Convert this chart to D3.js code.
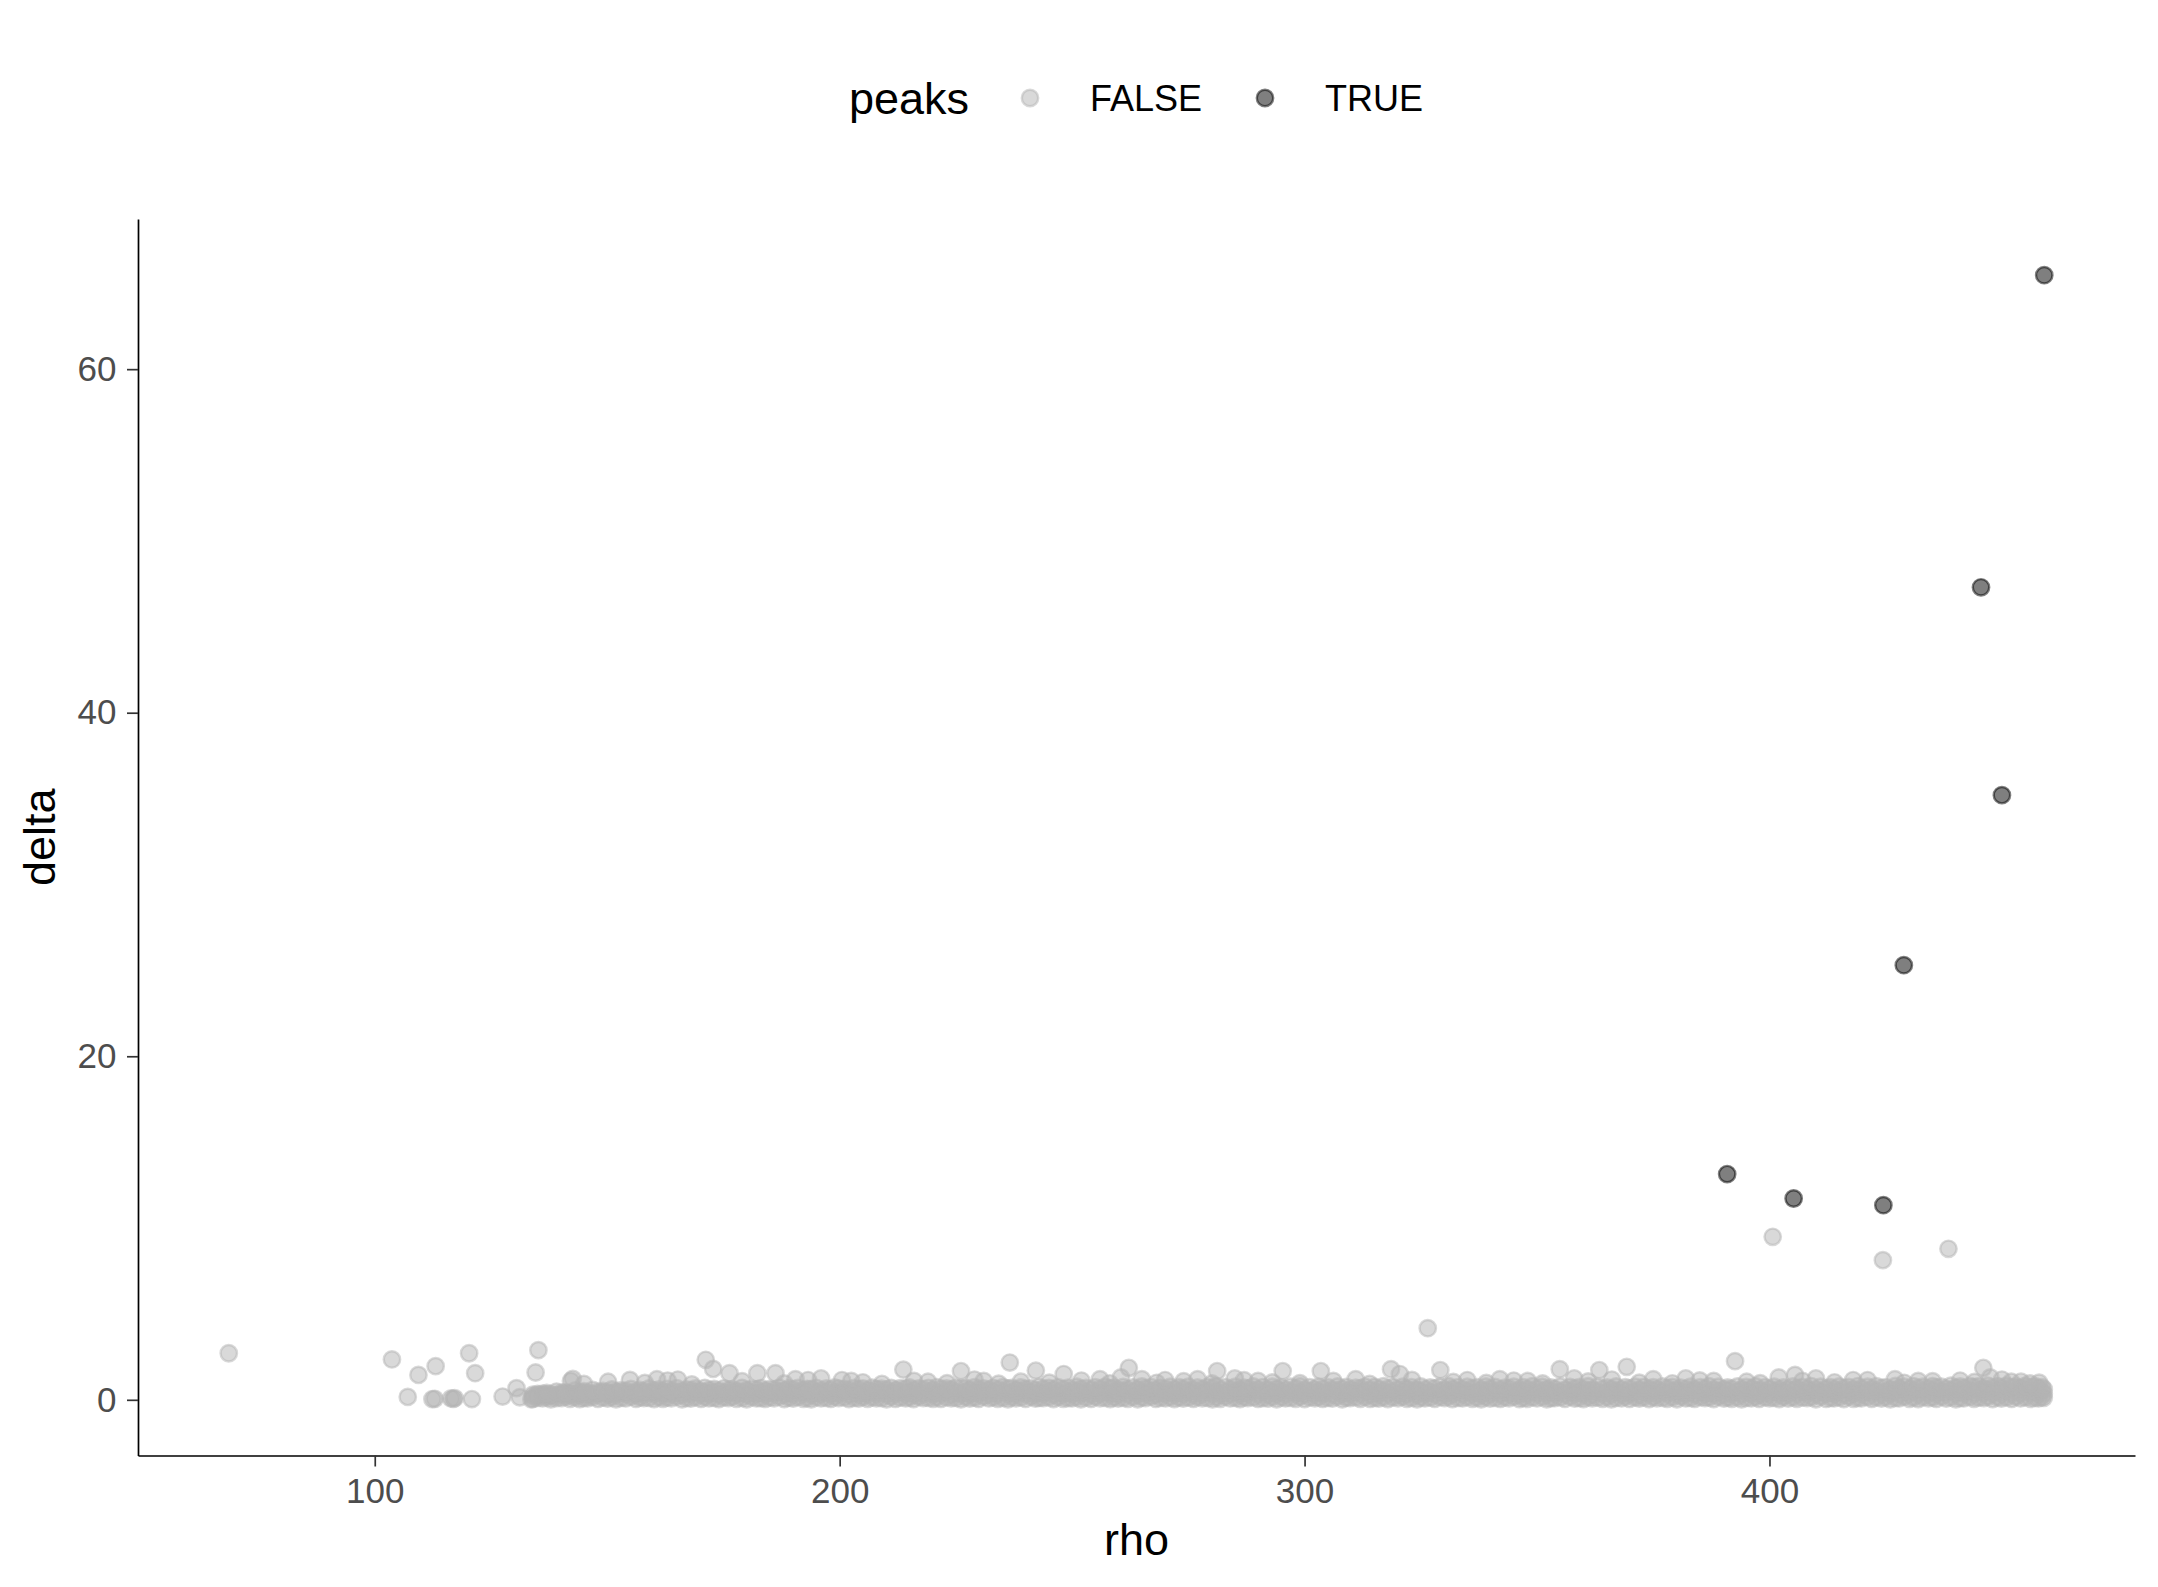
<!DOCTYPE html>
<html><head><meta charset="utf-8">
<script src="https://cdn.jsdelivr.net/npm/d3@7"></script>
<style>
body{margin:0;background:#fff;overflow:hidden}
svg{display:block}
text{font-family:"Liberation Sans",Arial,Helvetica,sans-serif}
</style>
</head><body>
<svg id="chart" width="2158" height="1587"></svg>
<script>
// ---------------- data ----------------
const legendTitle = "peaks";
const groups = ["FALSE", "TRUE"];
const xTitle = "rho";
const yTitle = "delta";
const xTicks = [100, 200, 300, 400];
const yTicks = [0, 20, 40, 60];

// peaks (TRUE)
const trueRho   = [390.9, 405.2, 424.5, 428.9, 445.5, 450.0, 459.1];
const trueDelta = [13.14, 11.72, 11.33, 25.3, 47.3, 35.2, 65.47];

// scattered non-peaks (FALSE) outside the dense band
const falseRho = [
  68.6, 103.7, 107.1, 109.4, 112.4, 112.9, 113.1, 116.4, 116.9, 117.2,
  120.3, 120.9, 121.6, 127.5, 130.5, 131.2, 133.7, 134.6, 135.2, 142.2,
  142.6, 154.9, 160.7, 165.2, 171.2, 172.8, 176.3, 182.3, 186.2, 190.5,
  196.0, 200.5, 202.5, 213.7, 219.0, 226.1, 231.0, 236.6, 242.2, 248.2,
  256.0, 260.5, 262.2, 270.0, 277.0, 281.2, 285.0, 290.0, 295.3, 303.5,
  311.0, 318.6, 320.5, 326.5, 329.2, 335.0, 342.0, 348.0, 354.9, 358.0,
  363.4, 369.3, 375.0, 382.0, 388.0, 392.6, 400.7, 402.0, 405.5, 410.0,
  418.0, 424.4, 427.0, 432.0, 438.5, 446.0, 447.5, 452.0, 456.0
];
const falseDelta = [
  2.71, 2.35, 0.17, 1.45, 0.04, 0.06, 1.96, 0.08, 0.06, 0.10,
  2.71, 0.04, 1.55, 0.19, 0.68, 0.15, 0.03, 1.59, 2.89, 1.10,
  1.22, 1.16, 1.20, 1.18, 2.33, 1.80, 1.55, 1.55, 1.55, 1.20,
  1.25, 1.15, 1.10, 1.76, 1.05, 1.67, 1.10, 2.17, 1.70, 1.50,
  1.20, 1.30, 1.86, 1.15, 1.20, 1.67, 1.25, 1.10, 1.67, 1.67,
  1.20, 1.78, 1.50, 4.17, 1.73, 1.15, 1.20, 1.10, 1.78, 1.25,
  1.73, 1.92, 1.20, 1.25, 1.10, 2.25, 9.49, 1.30, 1.45, 1.25,
  1.15, 8.13, 1.20, 1.10, 8.79, 1.86, 1.30, 1.05, 0.95
];

// non-peaks just above the dense band (its ragged top edge)
const fringeRho = [
  145.0, 150.2, 158.1, 163.0, 168.2, 179.0, 188.1, 193.2, 205.0, 209.1,
  216.0, 223.1, 229.0, 234.2, 239.0, 245.1, 252.0, 258.1, 265.0, 268.2,
  274.0, 280.1, 287.0, 293.1, 299.0, 306.2, 314.0, 323.1, 332.0, 339.1,
  345.0, 351.2, 361.0, 366.1, 372.0, 379.1, 385.0, 395.1, 398.0, 407.1,
  414.0, 421.1, 429.0, 435.1, 441.0, 444.1, 450.0, 454.1, 458.0
];
const fringeDelta = [
  0.92, 1.05, 0.98, 1.12, 0.90, 1.08, 0.95, 1.15, 1.02, 0.93,
  1.10, 0.97, 1.18, 0.94, 1.06, 1.00, 1.12, 0.96, 1.20, 0.99,
  1.08, 0.95, 1.14, 1.01, 0.97, 1.10, 0.93, 1.16, 1.04, 0.98,
  1.12, 0.95, 1.07, 1.18, 1.00, 0.96, 1.13, 1.05, 0.97, 1.10,
  1.02, 1.15, 0.99, 1.08, 1.12, 1.04, 1.18, 1.06, 1.00
];

// dense band of non-peaks (FALSE), set A: rho positions and three layers of delta
const bandRho = [
  134.0, 136.1, 137.9, 140.2, 142.0, 144.1, 145.8, 148.0, 150.1, 151.9,
  154.0, 156.2, 157.9, 160.1, 162.0, 163.8, 166.1, 168.0, 170.2, 171.9,
  174.0, 176.1, 177.8, 180.0, 182.1, 184.0, 185.9, 188.1, 190.0, 192.2,
  193.9, 196.0, 198.1, 199.8, 202.0, 204.1, 206.0, 207.9, 210.1, 212.0,
  214.2, 215.9, 218.0, 220.1, 221.8, 224.0, 226.1, 228.0, 229.9, 232.1,
  234.0, 236.2, 237.9, 240.0, 242.1, 243.8, 246.0, 248.1, 250.0, 251.9,
  254.1, 256.0, 258.2, 259.9, 262.0, 264.1, 265.8, 268.0, 270.1, 272.0,
  273.9, 276.1, 278.0, 280.2, 281.9, 284.0, 286.1, 287.8, 290.0, 292.1,
  294.0, 295.9, 298.1, 300.0, 302.2, 303.9, 306.0, 308.1, 309.8, 312.0,
  314.1, 316.0, 317.9, 320.1, 322.0, 324.2, 325.9, 328.0, 330.1, 331.8,
  334.0, 336.1, 338.0, 339.9, 342.1, 344.0, 346.2, 347.9, 350.0, 352.1,
  353.8, 356.0, 358.1, 360.0, 361.9, 364.1, 366.0, 368.2, 369.9, 372.0,
  374.1, 375.8, 378.0, 380.1, 382.0, 383.9, 386.1, 388.0, 390.2, 391.9,
  394.0, 396.1, 397.8, 400.0, 402.1, 404.0, 405.9, 408.1, 410.0, 412.2,
  413.9, 416.0, 418.1, 419.8, 422.0, 424.1, 426.0, 427.9, 430.1, 432.0,
  434.2, 435.9, 438.0, 440.1, 441.8, 444.0, 446.1, 448.0, 449.9, 452.1,
  454.0, 456.2, 457.9, 459.0
];
const bandLow = [
  0.05, 0.08, 0.03, 0.10, 0.06, 0.04, 0.09, 0.05, 0.07, 0.03,
  0.08, 0.05, 0.10, 0.04, 0.06, 0.09, 0.03, 0.07, 0.05, 0.08,
  0.04, 0.10, 0.06, 0.03, 0.08, 0.05, 0.09, 0.04, 0.07, 0.06,
  0.03, 0.08, 0.05, 0.10, 0.04, 0.07, 0.06, 0.09, 0.03, 0.05,
  0.08, 0.04, 0.10, 0.06, 0.05, 0.09, 0.03, 0.07, 0.05, 0.08,
  0.06, 0.03, 0.09, 0.05, 0.07, 0.10, 0.04, 0.06, 0.08, 0.03,
  0.05, 0.09, 0.04, 0.07, 0.06, 0.03, 0.10, 0.05, 0.08, 0.04,
  0.07, 0.05, 0.09, 0.03, 0.06, 0.08, 0.04, 0.10, 0.05, 0.07,
  0.03, 0.08, 0.06, 0.04, 0.09, 0.05, 0.07, 0.03, 0.10, 0.06,
  0.05, 0.07, 0.04, 0.09, 0.06, 0.03, 0.08, 0.05, 0.10, 0.04,
  0.08, 0.06, 0.03, 0.07, 0.05, 0.09, 0.04, 0.06, 0.08, 0.03,
  0.10, 0.05, 0.07, 0.04, 0.09, 0.06, 0.03, 0.08, 0.05, 0.07,
  0.04, 0.09, 0.06, 0.03, 0.08, 0.05, 0.10, 0.04, 0.07, 0.06,
  0.03, 0.08, 0.05, 0.09, 0.04, 0.07, 0.06, 0.10, 0.03, 0.05,
  0.08, 0.04, 0.06, 0.09, 0.05, 0.07, 0.03, 0.08, 0.06, 0.04,
  0.09, 0.05, 0.07, 0.03, 0.08, 0.06, 0.10, 0.04, 0.07, 0.05,
  0.08, 0.06, 0.09, 0.12
];
const bandMid = [
  0.18, 0.25, 0.22, 0.30, 0.26, 0.33, 0.28, 0.35, 0.30, 0.32,
  0.36, 0.30, 0.34, 0.38, 0.32, 0.35, 0.30, 0.37, 0.33, 0.36,
  0.31, 0.38, 0.34, 0.30, 0.36, 0.33, 0.39, 0.32, 0.35, 0.37,
  0.30, 0.36, 0.33, 0.38, 0.31, 0.35, 0.34, 0.37, 0.32, 0.36,
  0.38, 0.31, 0.35, 0.33, 0.37, 0.30, 0.36, 0.34, 0.39, 0.32,
  0.35, 0.37, 0.31, 0.36, 0.33, 0.38, 0.30, 0.35, 0.34, 0.37,
  0.32, 0.36, 0.39, 0.31, 0.35, 0.33, 0.37, 0.30, 0.36, 0.34,
  0.38, 0.32, 0.35, 0.37, 0.31, 0.36, 0.33, 0.39, 0.34, 0.30,
  0.36, 0.33, 0.38, 0.31, 0.35, 0.37, 0.32, 0.36, 0.34, 0.39,
  0.31, 0.35, 0.37, 0.33, 0.36, 0.30, 0.38, 0.34, 0.32, 0.36,
  0.35, 0.39, 0.32, 0.36, 0.33, 0.37, 0.31, 0.35, 0.38, 0.34,
  0.36, 0.32, 0.37, 0.34, 0.30, 0.38, 0.35, 0.33, 0.36, 0.31,
  0.37, 0.34, 0.39, 0.32, 0.36, 0.33, 0.38, 0.35, 0.31, 0.36,
  0.34, 0.37, 0.32, 0.38, 0.35, 0.33, 0.36, 0.39, 0.34, 0.37,
  0.36, 0.33, 0.38, 0.35, 0.40, 0.34, 0.37, 0.36, 0.39, 0.35,
  0.38, 0.36, 0.41, 0.37, 0.40, 0.38, 0.42, 0.39, 0.41, 0.38,
  0.40, 0.43, 0.39, 0.36
];
const bandHigh = [
  0.30, 0.36, 0.33, 0.42, 0.38, 0.45, 0.40, 0.47, 0.44, 0.48,
  0.52, 0.47, 0.50, 0.55, 0.49, 0.53, 0.51, 0.56, 0.50, 0.57,
  0.53, 0.58, 0.52, 0.56, 0.60, 0.54, 0.58, 0.55, 0.61, 0.57,
  0.63, 0.55, 0.60, 0.67, 0.58, 0.62, 0.56, 0.64, 0.60, 0.57,
  0.66, 0.59, 0.62, 0.56, 0.65, 0.60, 0.68, 0.57, 0.63, 0.59,
  0.61, 0.66, 0.58, 0.63, 0.57, 0.65, 0.60, 0.62, 0.56, 0.64,
  0.59, 0.63, 0.67, 0.58, 0.62, 0.60, 0.66, 0.57, 0.64, 0.61,
  0.65, 0.58, 0.62, 0.68, 0.60, 0.63, 0.57, 0.66, 0.61, 0.59,
  0.64, 0.60, 0.67, 0.58, 0.62, 0.65, 0.59, 0.63, 0.61, 0.68,
  0.57, 0.63, 0.66, 0.60, 0.64, 0.58, 0.62, 0.67, 0.59, 0.63,
  0.61, 0.68, 0.58, 0.64, 0.60, 0.66, 0.57, 0.63, 0.65, 0.60,
  0.64, 0.59, 0.67, 0.61, 0.58, 0.65, 0.62, 0.60, 0.66, 0.58,
  0.63, 0.60, 0.68, 0.57, 0.64, 0.61, 0.66, 0.59, 0.62, 0.65,
  0.60, 0.66, 0.58, 0.64, 0.62, 0.59, 0.67, 0.63, 0.61, 0.65,
  0.62, 0.68, 0.60, 0.66, 0.63, 0.70, 0.61, 0.67, 0.64, 0.69,
  0.66, 0.72, 0.65, 0.70, 0.68, 0.74, 0.67, 0.71, 0.69, 0.73,
  0.70, 0.75, 0.68, 0.62
];

// dense band, set B (in between set A positions)
const bandRho2 = [
  135.0, 137.0, 139.1, 141.0, 143.1, 145.0, 146.9, 149.1, 151.0, 153.0,
  155.1, 157.0, 159.0, 161.1, 162.9, 165.0, 167.1, 169.0, 171.0, 173.0,
  175.1, 176.9, 179.0, 181.1, 183.0, 185.0, 187.0, 189.1, 191.0, 193.0,
  195.0, 197.1, 198.9, 201.0, 203.1, 205.0, 207.0, 209.0, 211.1, 213.0,
  215.0, 217.0, 219.1, 220.9, 223.0, 225.0, 227.1, 229.0, 231.0, 233.0,
  235.1, 237.0, 239.0, 241.1, 242.9, 245.0, 247.0, 249.1, 251.0, 253.0,
  255.0, 257.1, 259.0, 261.0, 263.1, 265.0, 267.0, 269.0, 271.1, 273.0,
  275.0, 277.0, 279.1, 281.0, 283.0, 285.1, 287.0, 289.0, 291.0, 293.1,
  295.0, 297.0, 299.0, 301.1, 303.0, 305.0, 307.1, 309.0, 311.0, 313.0,
  315.1, 317.0, 319.0, 321.1, 323.0, 325.0, 327.0, 329.1, 331.0, 333.0,
  335.0, 337.1, 339.0, 341.0, 343.1, 345.0, 347.0, 349.0, 351.1, 353.0,
  355.0, 357.1, 359.0, 361.0, 363.0, 365.1, 367.0, 369.0, 371.1, 373.0,
  375.0, 377.0, 379.1, 381.0, 383.0, 385.1, 387.0, 389.0, 391.0, 393.1,
  395.0, 397.0, 399.1, 401.0, 403.0, 405.0, 407.1, 409.0, 411.0, 413.1,
  415.0, 417.0, 419.0, 421.1, 423.0, 425.0, 427.1, 429.0, 431.0, 433.0,
  435.1, 437.0, 439.0, 441.0, 443.1, 445.0, 447.0, 449.1, 451.0, 453.0,
  455.0, 457.1, 458.6
];
const bandLow2 = [
  0.12, 0.15, 0.10, 0.18, 0.14, 0.11, 0.17, 0.13, 0.16, 0.12,
  0.18, 0.14, 0.11, 0.16, 0.13, 0.19, 0.12, 0.15, 0.17, 0.11,
  0.14, 0.18, 0.12, 0.16, 0.10, 0.15, 0.19, 0.13, 0.17, 0.12,
  0.16, 0.11, 0.18, 0.14, 0.12, 0.17, 0.15, 0.10, 0.19, 0.13,
  0.15, 0.18, 0.12, 0.16, 0.14, 0.11, 0.17, 0.13, 0.19, 0.15,
  0.11, 0.16, 0.14, 0.18, 0.12, 0.15, 0.17, 0.10, 0.16, 0.13,
  0.18, 0.12, 0.15, 0.11, 0.17, 0.14, 0.19, 0.12, 0.16, 0.14,
  0.13, 0.17, 0.11, 0.15, 0.18, 0.12, 0.16, 0.14, 0.10, 0.17,
  0.15, 0.12, 0.18, 0.14, 0.16, 0.11, 0.19, 0.13, 0.15, 0.17,
  0.12, 0.16, 0.14, 0.18, 0.11, 0.15, 0.13, 0.17, 0.19, 0.12,
  0.16, 0.13, 0.17, 0.11, 0.15, 0.18, 0.12, 0.14, 0.16, 0.10,
  0.14, 0.18, 0.12, 0.16, 0.13, 0.17, 0.11, 0.19, 0.14, 0.15,
  0.17, 0.12, 0.15, 0.19, 0.11, 0.16, 0.14, 0.18, 0.13, 0.15,
  0.11, 0.17, 0.14, 0.12, 0.18, 0.15, 0.13, 0.16, 0.19, 0.12,
  0.15, 0.19, 0.12, 0.17, 0.14, 0.16, 0.11, 0.18, 0.13, 0.16,
  0.14, 0.18, 0.15, 0.12, 0.17, 0.13, 0.19, 0.16, 0.14, 0.18,
  0.15, 0.12, 0.16
];
const bandMid2 = [
  0.25, 0.30, 0.28, 0.36, 0.32, 0.40, 0.35, 0.42, 0.38, 0.44,
  0.40, 0.45, 0.42, 0.47, 0.43, 0.46, 0.41, 0.48, 0.44, 0.46,
  0.42, 0.48, 0.45, 0.43, 0.47, 0.44, 0.49, 0.42, 0.46, 0.48,
  0.44, 0.47, 0.43, 0.49, 0.45, 0.42, 0.48, 0.46, 0.44, 0.50,
  0.46, 0.43, 0.48, 0.45, 0.50, 0.44, 0.47, 0.42, 0.49, 0.46,
  0.48, 0.44, 0.50, 0.46, 0.43, 0.49, 0.45, 0.47, 0.51, 0.44,
  0.47, 0.50, 0.45, 0.52, 0.48, 0.46, 0.51, 0.44, 0.49, 0.47,
  0.50, 0.46, 0.52, 0.48, 0.45, 0.51, 0.47, 0.53, 0.49, 0.46,
  0.51, 0.48, 0.45, 0.52, 0.49, 0.47, 0.53, 0.46, 0.50, 0.48,
  0.46, 0.52, 0.49, 0.47, 0.53, 0.50, 0.45, 0.51, 0.48, 0.52,
  0.49, 0.46, 0.52, 0.48, 0.51, 0.47, 0.53, 0.50, 0.46, 0.52,
  0.48, 0.51, 0.47, 0.53, 0.49, 0.46, 0.52, 0.50, 0.48, 0.51,
  0.53, 0.47, 0.50, 0.48, 0.52, 0.49, 0.46, 0.51, 0.54, 0.48,
  0.50, 0.53, 0.47, 0.51, 0.49, 0.52, 0.48, 0.54, 0.50, 0.47,
  0.52, 0.49, 0.54, 0.50, 0.53, 0.48, 0.55, 0.51, 0.53, 0.50,
  0.54, 0.51, 0.56, 0.52, 0.55, 0.53, 0.57, 0.54, 0.56, 0.52,
  0.55, 0.53, 0.50
];
const bandHigh2 = [
  0.35, 0.40, 0.48, 0.45, 0.55, 0.50, 0.58, 0.52, 0.60, 0.56,
  0.63, 0.58, 0.66, 0.60, 0.64, 0.68, 0.61, 0.66, 0.70, 0.63,
  0.67, 0.62, 0.70, 0.65, 0.68, 0.63, 0.71, 0.66, 0.69, 0.64,
  0.70, 0.66, 0.72, 0.64, 0.69, 0.67, 0.71, 0.65, 0.70, 0.68,
  0.72, 0.67, 0.70, 0.74, 0.66, 0.71, 0.69, 0.73, 0.67, 0.70,
  0.74, 0.69, 0.72, 0.68, 0.75, 0.70, 0.73, 0.71, 0.76, 0.69,
  0.73, 0.77, 0.71, 0.75, 0.72, 0.78, 0.74, 0.70, 0.76, 0.73,
  0.77, 0.72, 0.75, 0.79, 0.73, 0.76, 0.71, 0.78, 0.74, 0.77,
  0.72, 0.76, 0.79, 0.74, 0.77, 0.73, 0.78, 0.75, 0.71, 0.77,
  0.75, 0.79, 0.73, 0.77, 0.74, 0.78, 0.72, 0.76, 0.79, 0.74,
  0.77, 0.73, 0.78, 0.75, 0.71, 0.77, 0.74, 0.79, 0.76, 0.72,
  0.78, 0.75, 0.73, 0.79, 0.76, 0.72, 0.78, 0.74, 0.77, 0.75,
  0.73, 0.78, 0.75, 0.71, 0.77, 0.74, 0.79, 0.76, 0.72, 0.78,
  0.75, 0.79, 0.74, 0.77, 0.72, 0.78, 0.75, 0.80, 0.76, 0.73,
  0.78, 0.75, 0.80, 0.76, 0.79, 0.74, 0.81, 0.77, 0.80, 0.76,
  0.80, 0.77, 0.82, 0.78, 0.81, 0.79, 0.83, 0.80, 0.82, 0.78,
  0.81, 0.79, 0.74
];

// ---------------- build records ----------------
const points = [];
function addLayer(rhos, deltas) {
  rhos.forEach((r, i) => { if (deltas[i] !== undefined) points.push({rho: r, delta: deltas[i], peak: "FALSE"}); });
}
addLayer(fringeRho, fringeDelta);
addLayer(bandRho, bandLow);
addLayer(bandRho2, bandLow2);
addLayer(bandRho, bandMid);
addLayer(bandRho2, bandMid2);
addLayer(bandRho, bandHigh);
addLayer(bandRho2, bandHigh2);
addLayer(falseRho, falseDelta);
trueRho.forEach((r, i) => points.push({rho: r, delta: trueDelta[i], peak: "TRUE"}));

// ---------------- layout ----------------
const svg = d3.select("#chart");
const M = {left: 138, right: 2135, top: 219, bottom: 1455.5};

function expand(ext, f) { const d = ext[1] - ext[0]; return [ext[0] - d * f, ext[1] + d * f]; }
const x = d3.scaleLinear().domain(expand(d3.extent(points, d => d.rho), 0.05)).range([M.left, M.right]);
const y = d3.scaleLinear().domain(expand(d3.extent(points, d => d.delta), 0.05)).range([M.bottom, M.top]);

const color = d3.scaleOrdinal().domain(groups).range(["#B3B3B3", "#000000"]);
const R = 8.2, SW = 2.4;

// points
svg.append("g").selectAll("circle").data(points).join("circle")
  .attr("cx", d => x(d.rho)).attr("cy", d => y(d.delta)).attr("r", R)
  .attr("fill", d => color(d.peak)).attr("fill-opacity", 0.5)
  .attr("stroke", d => color(d.peak)).attr("stroke-opacity", 0.5).attr("stroke-width", SW);

// axes
const xAxis = svg.append("g").attr("transform", `translate(0,${M.bottom})`)
  .call(d3.axisBottom(x).tickValues(xTicks).tickFormat(d3.format("d")).tickSize(11).tickSizeOuter(0).tickPadding(11.5));
const yAxis = svg.append("g").attr("transform", `translate(${M.left},0)`)
  .call(d3.axisLeft(y).tickValues(yTicks).tickFormat(d3.format("d")).tickSize(11).tickSizeOuter(0).tickPadding(10.5));
[xAxis, yAxis].forEach(g => {
  g.select(".domain").attr("stroke", "#000").attr("stroke-width", 1.7);
  g.selectAll(".tick line").attr("stroke", "#333333").attr("stroke-width", 1.7);
  g.selectAll(".tick text").attr("fill", "#4D4D4D").style("font-size", "35px")
    .style("font-family", '"Liberation Sans", Arial, sans-serif');
});

// axis titles
svg.append("text").attr("x", (M.left + M.right) / 2).attr("y", 1555)
  .attr("text-anchor", "middle").style("font-size", "45px").attr("fill", "#000").text(xTitle);
svg.append("text").attr("transform", `translate(55,${(M.top + M.bottom) / 2}) rotate(-90)`)
  .attr("text-anchor", "middle").style("font-size", "45px").attr("fill", "#000").text(yTitle);

// legend
const lg = svg.append("g");
lg.append("text").attr("x", 849).attr("y", 113.5).style("font-size", "45px").attr("fill", "#000").text(legendTitle);
const keyX = [1030, 1265], labX = [1090, 1325];
groups.forEach((g, i) => {
  lg.append("circle").attr("cx", keyX[i]).attr("cy", 98).attr("r", R)
    .attr("fill", color(g)).attr("fill-opacity", 0.5)
    .attr("stroke", color(g)).attr("stroke-opacity", 0.5).attr("stroke-width", SW);
  lg.append("text").attr("x", labX[i]).attr("y", 110.8).style("font-size", "36px").attr("fill", "#000").text(g);
});
</script>
</body></html>
